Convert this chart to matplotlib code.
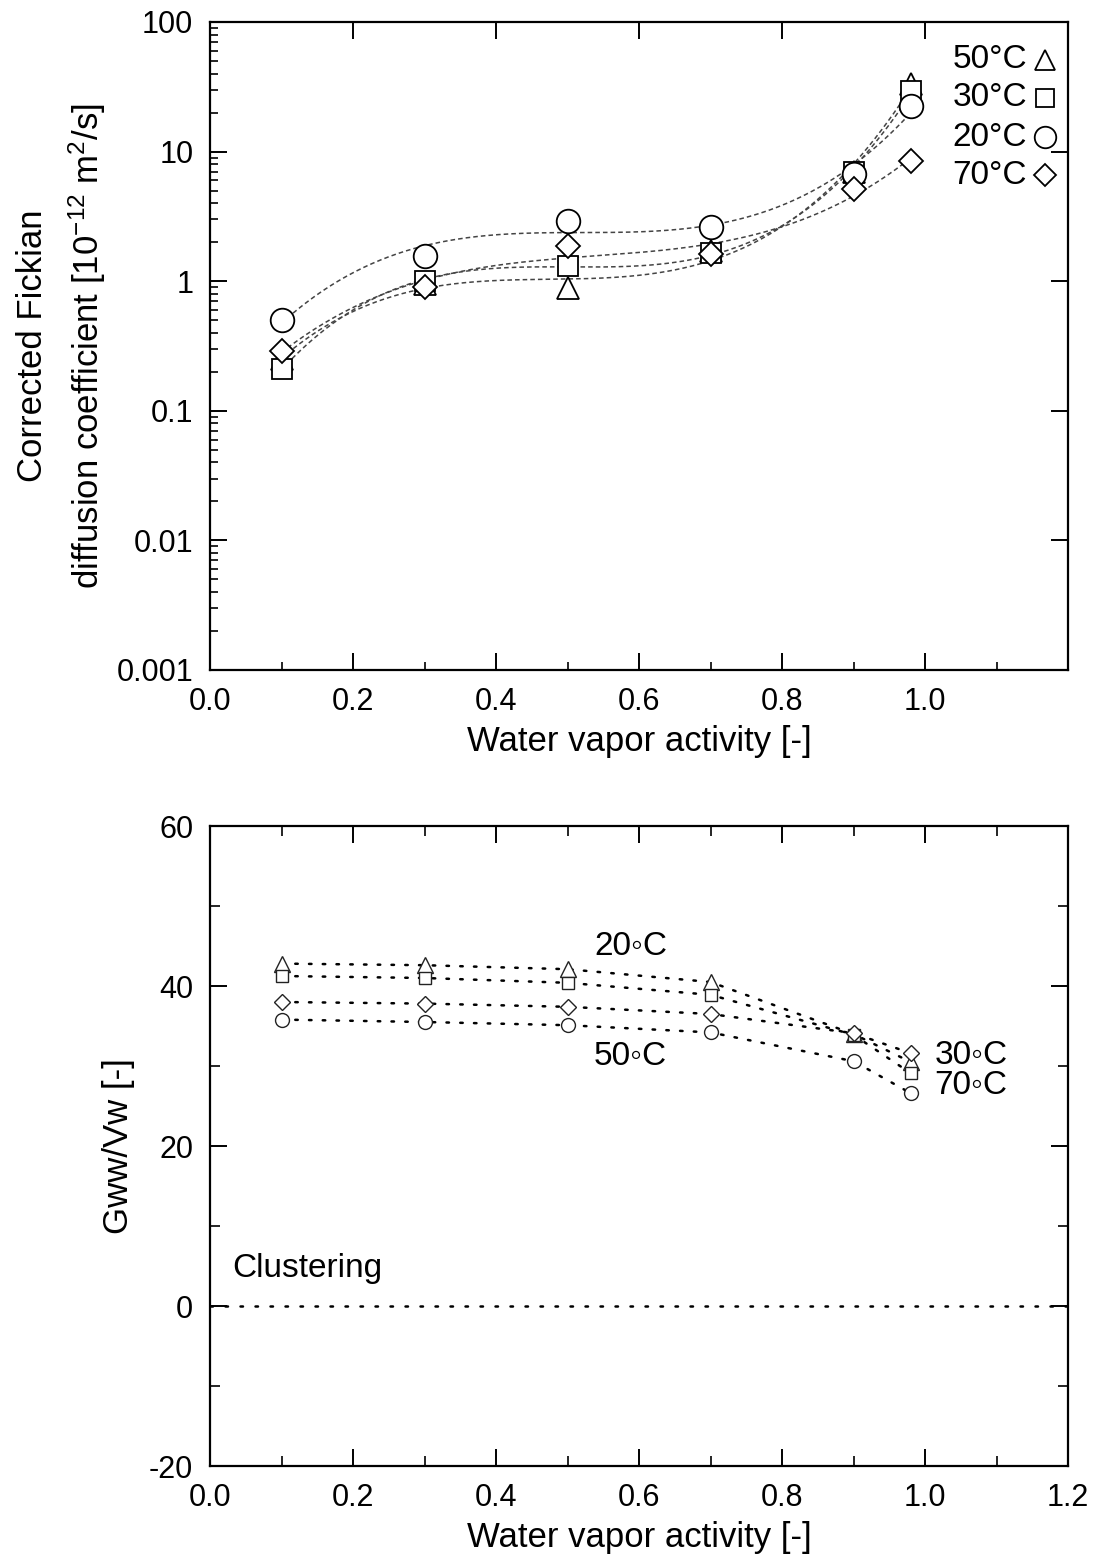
import numpy as np
import matplotlib
matplotlib.use('Agg')
import matplotlib.pyplot as plt
from matplotlib.ticker import FixedLocator, FixedFormatter, NullFormatter

plt.rcParams['font.family'] = ['Liberation Sans', 'DejaVu Sans']
plt.rcParams['mathtext.fontset'] = 'custom'
plt.rcParams['mathtext.rm'] = 'Liberation Sans'
plt.rcParams['mathtext.it'] = 'Liberation Sans:italic'
plt.rcParams['axes.unicode_minus'] = False

# ---------------- data ----------------
activity = [0.1, 0.3, 0.5, 0.7, 0.9, 0.98]

# Top panel: corrected Fickian diffusion coefficient [1e-12 m2/s]
d_labels = ['50°C', '30°C', '20°C', '70°C']
d_50 = [0.25, 0.95, 0.89, 1.70, 7.0, 33.0]
d_30 = [0.21, 1.00, 1.31, 1.65, 6.9, 29.4]
d_20 = [0.50, 1.56, 2.92, 2.64, 6.7, 22.3]
d_70 = [0.29, 0.90, 1.87, 1.61, 5.1, 8.5]

top_xticks = [0.0, 0.2, 0.4, 0.6, 0.8, 1.0, 1.2]
top_xticklabels = ['0.0', '0.2', '0.4', '0.6', '0.8', '1.0', '']
top_yticks = [0.001, 0.01, 0.1, 1, 10, 100]
top_yticklabels = ['0.001', '0.01', '0.1', '1', '10', '100']

# Bottom panel: Gww/Vw
g_tri = [42.8, 42.6, 42.1, 40.5, 34.0, 30.5]
g_sq = [41.25, 41.0, 40.4, 38.9, 33.9, 29.1]
g_dia = [38.0, 37.8, 37.4, 36.5, 34.1, 31.6]
g_circ = [35.8, 35.5, 35.1, 34.2, 30.6, 26.6]
g_labels = ['20\u25e6C', '50\u25e6C', '30\u25e6C', '70\u25e6C']
g_label_x = [0.588, 0.588, 1.064, 1.064]
g_label_y = [44.9, 31.2, 31.3, 27.6]
bottom_xticks = [0.0, 0.2, 0.4, 0.6, 0.8, 1.0, 1.2]
bottom_xticklabels = ['0.0', '0.2', '0.4', '0.6', '0.8', '1.0', '1.2']
bottom_yticks = [-20, 0, 20, 40, 60]

# ---------------- figure ----------------
W, H = 1103, 1567
fig = plt.figure(figsize=(W / 100, H / 100), dpi=100)
L, R = 210, 1068
ax1 = fig.add_axes([L / W, 1 - 670 / H, (R - L) / W, (670 - 22) / H])
ax2 = fig.add_axes([L / W, 1 - 1466 / H, (R - L) / W, (1466 - 826) / H])

TICK_FS = 22
LAB_FS = 25
TXT_FS = 24

for ax in (ax1, ax2):
    for s in ax.spines.values():
        s.set_linewidth(1.6)

# ---- top panel ----
ax1.set_yscale('log')
ax1.set_xlim(0, 1.2)
ax1.set_ylim(0.001, 100)

series_top = [d_50, d_30, d_20, d_70]
markers_top = ['^', 's', 'o', 'D']
ms_top = [16.5, 14, 17, 12]
xs = np.linspace(activity[0], activity[-1], 300)
for vals in series_top:
    c = np.polyfit(activity, np.log10(vals), 3)
    ax1.plot(xs, 10 ** np.polyval(c, xs), color='#444444', lw=1.1,
             dashes=(3, 2), zorder=2)
for vals, m, ms in zip(series_top, markers_top, ms_top):
    ax1.plot(activity, vals, ls='none', marker=m, ms=ms, mfc='white',
             mec='black', mew=1.3, zorder=3)

ax1.xaxis.set_major_locator(FixedLocator(top_xticks))
ax1.xaxis.set_major_formatter(FixedFormatter(top_xticklabels))
ax1.xaxis.set_minor_locator(FixedLocator(np.arange(0.1, 1.2, 0.2)))
ax1.yaxis.set_major_locator(FixedLocator(top_yticks))
ax1.yaxis.set_major_formatter(FixedFormatter(top_yticklabels))
minor_log = [m * 10.0 ** e for e in range(-3, 2) for m in range(2, 10)]
ax1.yaxis.set_minor_locator(FixedLocator(minor_log))
ax1.yaxis.set_minor_formatter(NullFormatter())
ax1.tick_params(which='major', direction='in', length=12, width=1.4,
                labelsize=TICK_FS, pad=12, top=True, right=True)
ax1.tick_params(which='minor', direction='in', length=6, width=1.2,
                top=False, right=False)

ax1.set_xlabel('Water vapor activity [-]', fontsize=LAB_FS, labelpad=6)
fig.text(33 / W, 1 - 346 / H, 'Corrected Fickian', rotation=90,
         ha='center', va='center', fontsize=LAB_FS)
fig.text(87 / W, 1 - 346 / H,
         'diffusion coefficient [10$^{\\mathregular{-12}}$ m$^{\\mathregular{2}}$/s]',
         rotation=90, ha='center', va='center', fontsize=LAB_FS)

# legend (text followed by marker)
leg_y = [1 - (60 - 22) / 648, 1 - (98 - 22) / 648,
         1 - (137 - 22) / 648, 1 - (175 - 22) / 648]
leg_ms = [15, 13, 15.5, 11]
for lab, m, ms, y in zip(d_labels, markers_top, leg_ms, leg_y):
    ax1.text(0.952, y, lab, transform=ax1.transAxes, ha='right',
             va='center', fontsize=TXT_FS)
    ax1.plot([0.973], [y], marker=m, ms=ms, mfc='white', mec='black',
             mew=1.3, transform=ax1.transAxes, clip_on=False)

# ---- bottom panel ----
ax2.set_xlim(0, 1.2)
ax2.set_ylim(-20, 60)
series_bot = [g_tri, g_sq, g_dia, g_circ]
markers_bot = ['^', 's', 'D', 'o']
ms_bot = [11, 8.5, 8.5, 10]
for vals, m, ms in zip(series_bot, markers_bot, ms_bot):
    ax2.plot(activity, vals, color='black', lw=1.8, ls=(0, (1, 4.5)),
             dash_capstyle='round', marker=m, ms=ms, mfc='white',
             mec='#222222', mew=1.0)
ax2.plot([0, 1.2], [0, 0], color='black', lw=1.8, ls=(0, (1, 5)),
         dash_capstyle='round')

for lab, x, y in zip(g_labels, g_label_x, g_label_y):
    ax2.text(x, y, lab, ha='center', va='center', fontsize=TXT_FS)
ax2.text(0.031, 4.75, 'Clustering', ha='left', va='center', fontsize=TXT_FS)

ax2.xaxis.set_major_locator(FixedLocator(bottom_xticks))
ax2.xaxis.set_major_formatter(FixedFormatter(bottom_xticklabels))
ax2.xaxis.set_minor_locator(FixedLocator(np.arange(0.1, 1.2, 0.2)))
ax2.yaxis.set_major_locator(FixedLocator(bottom_yticks))
ax2.yaxis.set_minor_locator(FixedLocator([-10, 10, 30, 50]))
ax2.tick_params(which='major', direction='in', length=12, width=1.4,
                labelsize=TICK_FS, pad=12, top=True, right=True)
ax2.tick_params(which='minor', direction='in', length=7, width=1.2,
                top=True, right=True)
ax2.set_xlabel('Water vapor activity [-]', fontsize=LAB_FS, labelpad=6)
ax2.set_ylabel('Gww/Vw [-]', fontsize=LAB_FS, labelpad=10)

fig.savefig('out.png', dpi=100)
